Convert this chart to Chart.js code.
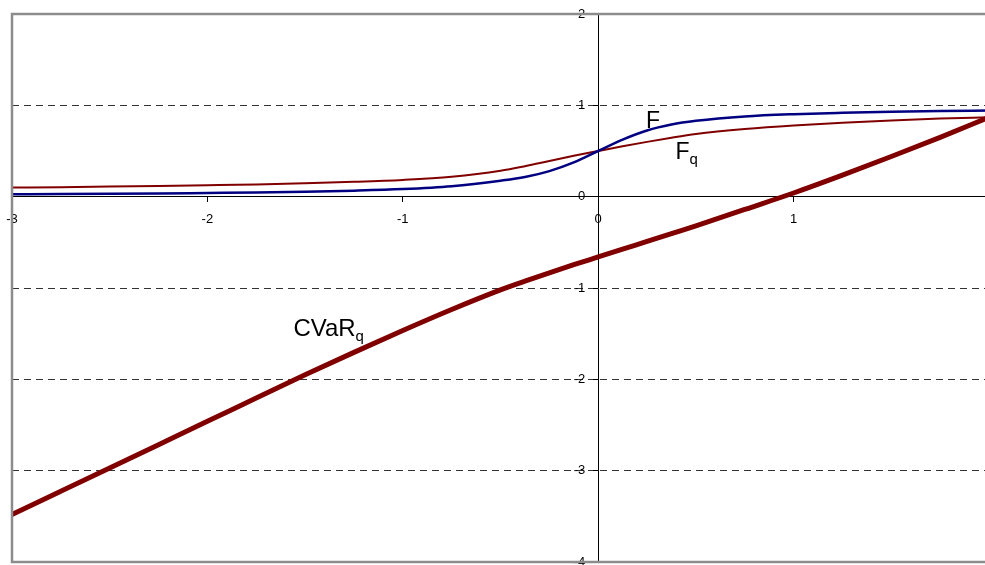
<!DOCTYPE html>
<html>
<head>
<meta charset="utf-8">
<script src="https://cdn.jsdelivr.net/npm/chart.js@4/dist/chart.umd.min.js"></script>
<style>
  html, body { margin: 0; padding: 0; background: #fff; overflow: hidden; }
  #wrap { width: 985px; height: 565px; overflow: hidden; position: relative; }
  #box { width: 1000px; height: 580px; }
</style>
</head>
<body>
<div id="wrap"><div id="box"><canvas id="c"></canvas></div></div>
<script>
const xs = [-3, -2.75, -2.5, -2.25, -2, -1.75, -1.5, -1.25, -1, -0.75, -0.5, -0.375, -0.25, -0.125,
  0, 0.125, 0.25, 0.375, 0.5, 0.75, 1, 1.25, 1.5, 1.75, 2];
const fVals = [0.026, 0.028, 0.031, 0.035, 0.04, 0.045, 0.053, 0.065, 0.083, 0.115, 0.175, 0.215, 0.28, 0.375,
  0.5, 0.625, 0.725, 0.79, 0.83, 0.878, 0.903, 0.918, 0.929, 0.937, 0.943];
const fqVals = [0.099, 0.104, 0.11, 0.117, 0.125, 0.134, 0.147, 0.162, 0.183, 0.218, 0.283, 0.333, 0.39, 0.447,
  0.5, 0.552, 0.6, 0.645, 0.685, 0.74, 0.78, 0.81, 0.835, 0.855, 0.87];
const cvarVals = [-3.48, -3.225, -2.97, -2.715, -2.46, -2.205, -1.95, -1.705, -1.465, -1.235, -1.02, -0.925, -0.835, -0.745,
  -0.66, -0.575, -0.49, -0.405, -0.32, -0.14, 0.04, 0.235, 0.44, 0.65, 0.87];

const xMin = -3, xMax = 2;
const yMin = -4, yMax = 2;
const dashedAt = [1, -1, -2, -3];

const FONT = "'Liberation Sans', Arial, sans-serif";
const pts = (ys) => xs.map((x, i) => ({ x, y: ys[i] }));

// curve labels: [main text, subscript, x, y (data units), font size]
const curveLabels = [
  ["F", "", 0.245, 0.755, 23],
  ["F", "q", 0.395, 0.41, 23],
  ["CVaR", "q", -1.56, -1.53, 24],
];

const frame = {
  id: "frame",
  afterDraw(chart) {
    const { ctx, chartArea: a } = chart;
    ctx.save();
    ctx.strokeStyle = "#8c8c8c";
    ctx.lineWidth = 2.5;
    ctx.strokeRect(a.left, a.top, a.right - a.left, a.bottom - a.top);
    ctx.restore();
  },
};

const labels = {
  id: "labels",
  afterDatasetsDraw(chart) {
    const { ctx, scales } = chart;
    ctx.save();
    ctx.fillStyle = "#000";
    ctx.textBaseline = "alphabetic";
    ctx.textAlign = "left";
    for (const [txt, sub, x, y, size] of curveLabels) {
      const px = scales.x.getPixelForValue(x);
      const py = scales.y.getPixelForValue(y);
      ctx.font = size + "px " + FONT;
      ctx.fillText(txt, px, py);
      if (sub) {
        const w = ctx.measureText(txt).width;
        ctx.font = "15px " + FONT;
        ctx.fillText(sub, px + w, py + 5);
      }
    }
    ctx.restore();
  },
};

new Chart(document.getElementById("c"), {
  type: "line",
  data: {
    datasets: [
      { label: "F", data: pts(fVals), borderColor: "#000080", borderWidth: 2.5 },
      { label: "Fq", data: pts(fqVals), borderColor: "#800000", borderWidth: 2 },
      { label: "CVaRq", data: pts(cvarVals), borderColor: "#800000", borderWidth: 5 },
    ],
  },
  options: {
    responsive: true,
    maintainAspectRatio: false,
    animation: false,
    layout: { padding: { left: 12, top: 14, right: 11, bottom: 18 } },
    elements: {
      point: { radius: 0 },
      line: { cubicInterpolationMode: "monotone", fill: false },
    },
    plugins: { legend: { display: false }, tooltip: { enabled: false } },
    scales: {
      x: {
        type: "linear",
        min: xMin, max: xMax,
        position: { y: 0 },
        grid: { drawOnChartArea: false, tickLength: 5, tickColor: "#000", color: "#000" },
        border: { color: "#000", width: 1 },
        ticks: {
          stepSize: 1, maxRotation: 0, autoSkip: false, padding: 5, color: "#000",
          font: { family: FONT, size: 13, lineHeight: 1.9 },
        },
      },
      y: {
        type: "linear",
        min: yMin, max: yMax,
        position: { x: 0 },
        grid: {
          color: (c) => (dashedAt.includes(c.tick && c.tick.value) ? "#333" : "rgba(0,0,0,0)"),
          tickColor: "#000",
          tickLength: 5,
          lineWidth: 1,
        },
        border: { color: "#000", width: 1, dash: [7, 5] },
        ticks: {
          stepSize: 1, color: "#000",
          font: { family: FONT, size: 13 },
          // labels of an axis placed at x=0 sit on the axis line, keep them off it
          callback: (v) => v + "\u2002\u2002",
        },
      },
    },
  },
  plugins: [frame, labels],
});
</script>
</body>
</html>
